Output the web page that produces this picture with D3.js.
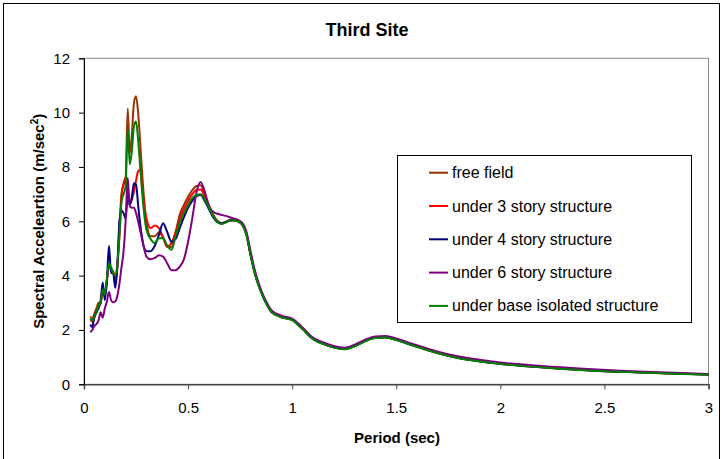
<!DOCTYPE html>
<html lang="en">
<head>
    <meta charset="UTF-8">
    <title>Third Site</title>
    <script src="https://d3js.org/d3.v7.min.js"></script>
    <style>
        body { margin: 0; background: #fff; }
        svg { display: block; font-family: "Liberation Sans", Arial, sans-serif; }
        .series { fill: none; stroke-width: 2; stroke-linejoin: round; }
        .tick-label { font-size: 15px; fill: #000; }
        .axis-title { font-size: 15px; font-weight: bold; fill: #000; }
        .legend-text { font-size: 16px; fill: #000; }
    </style>
</head>
<body>
    <div id="chart"></div>
    <script>
        const width = 725, height = 459;
        const margin = { top: 58.3, right: 16.5, bottom: 74.7, left: 84 };

        // data
        const periods = [
            0.03, 0.04, 0.05, 0.06, 0.07, 0.08, 0.09, 0.10, 0.11, 0.12,
            0.13, 0.14, 0.15, 0.16, 0.17, 0.18, 0.19, 0.20, 0.21, 0.22,
            0.23, 0.24, 0.25, 0.26, 0.27, 0.28, 0.29, 0.30,
            0.32, 0.34, 0.36, 0.38, 0.40, 0.42, 0.44, 0.46, 0.48, 0.50,
            0.52, 0.54, 0.56, 0.58, 0.60, 0.62, 0.64, 0.66, 0.68, 0.70,
            0.72, 0.74, 0.76, 0.78, 0.80, 0.82, 0.84, 0.86, 0.88, 0.90,
            0.95, 1.00, 1.05, 1.10, 1.15, 1.20, 1.25, 1.30, 1.35, 1.40,
            1.45, 1.50, 1.55, 1.60, 1.70, 1.80, 1.90, 2.00, 2.20, 2.40,
            2.60, 2.80, 3.00
        ];

        const freeField = [
            2.5, 2.4, 2.6, 2.8, 3.0, 2.95, 3.55, 3.3, 3.8, 4.45,
            4.2, 4.15, 3.9, 4.4, 5.7, 7.0, 7.35, 7.6, 10.15, 8.5,
            9.2, 10.35, 10.6, 10.0, 8.9, 7.7, 6.7, 6.0,
            5.45, 5.45, 5.6, 5.4, 5.05, 5.05, 5.6, 6.25, 6.6, 6.9,
            7.15, 7.3, 7.33, 7.0, 6.6, 6.25, 6.02, 5.93, 5.98, 6.04,
            6.05, 6.02, 5.9, 5.55, 4.8, 4.15, 3.65, 3.25, 2.93, 2.68,
            2.48, 2.38, 2.05, 1.68, 1.5, 1.37, 1.31, 1.42, 1.6, 1.72,
            1.74, 1.65, 1.52, 1.4, 1.16, 0.98, 0.86, 0.77, 0.64, 0.54,
            0.46, 0.41, 0.36
        ];
        const story3 = [
            2.4, 2.3, 2.45, 2.7, 2.85, 3.0, 3.5, 3.3, 3.85, 4.4,
            4.25, 4.15, 3.8, 4.3, 5.4, 6.9, 7.4, 7.6, 7.0, 6.65,
            6.8, 7.1, 7.5, 7.85, 7.9, 7.2, 6.5, 6.1,
            5.75, 5.85, 5.75, 5.4, 5.08, 5.2, 5.6, 6.1, 6.45, 6.75,
            7.0, 7.15, 7.17, 6.9, 6.55, 6.22, 6.0, 5.92, 5.97, 6.03,
            6.04, 6.0, 5.88, 5.52, 4.78, 4.12, 3.62, 3.23, 2.92, 2.67,
            2.47, 2.37, 2.04, 1.67, 1.49, 1.36, 1.3, 1.41, 1.59, 1.71,
            1.73, 1.64, 1.51, 1.39, 1.15, 0.97, 0.85, 0.76, 0.63, 0.53,
            0.46, 0.41, 0.36
        ];
        const story4 = [
            2.2, 2.1, 2.5, 2.65, 2.8, 3.1, 3.75, 3.1, 3.8, 5.1,
            4.1, 4.1, 3.55, 4.3, 6.0, 6.4, 6.3, 6.1, 6.9, 6.6,
            6.9, 7.4, 7.35, 6.6, 5.9, 5.35, 5.0, 4.9,
            4.9, 5.1, 5.5, 5.93, 5.6, 5.25, 5.35, 5.75, 6.15, 6.5,
            6.75, 6.93, 6.97, 6.75, 6.45, 6.15, 5.98, 5.92, 5.97, 6.03,
            6.04, 6.0, 5.88, 5.52, 4.78, 4.12, 3.62, 3.23, 2.92, 2.67,
            2.47, 2.37, 2.04, 1.67, 1.49, 1.36, 1.3, 1.41, 1.59, 1.71,
            1.73, 1.64, 1.51, 1.39, 1.15, 0.97, 0.85, 0.76, 0.63, 0.53,
            0.46, 0.41, 0.36
        ];
        const story6 = [
            1.92, 2.0, 2.15, 2.22, 2.35, 2.65, 2.45, 2.8, 3.05, 3.4,
            3.1, 3.02, 3.05, 3.25, 3.7, 4.3, 4.9, 6.0, 7.6, 6.55,
            6.5, 6.5, 6.3, 6.0, 5.65, 5.3, 4.95, 4.7,
            4.6, 4.65, 4.75, 4.7, 4.45, 4.2, 4.2, 4.33, 4.6, 5.25,
            6.1, 7.05, 7.45, 7.1, 6.55, 6.35, 6.28, 6.24, 6.2, 6.15,
            6.1, 6.05, 5.95, 5.62, 4.9, 4.22, 3.7, 3.3, 2.98, 2.73,
            2.52, 2.42, 2.09, 1.72, 1.54, 1.41, 1.35, 1.46, 1.64, 1.76,
            1.78, 1.69, 1.56, 1.44, 1.2, 1.02, 0.9, 0.8, 0.67, 0.57,
            0.49, 0.43, 0.38
        ];
        const baseIsolated = [
            2.4, 2.35, 2.5, 2.65, 2.9, 3.0, 3.5, 3.3, 3.9, 4.45,
            4.3, 4.1, 4.0, 4.4, 5.5, 6.7, 7.0, 7.3, 9.4, 8.1,
            8.6, 9.5, 9.67, 9.0, 8.0, 7.0, 6.2, 5.7,
            5.35, 5.2, 5.38, 5.38, 5.1, 4.95, 5.45, 5.95, 6.3, 6.6,
            6.85, 6.98, 7.0, 6.8, 6.5, 6.2, 5.98, 5.9, 5.95, 6.02,
            6.03, 6.0, 5.87, 5.5, 4.76, 4.1, 3.6, 3.22, 2.91, 2.66,
            2.46, 2.36, 2.03, 1.66, 1.48, 1.35, 1.29, 1.4, 1.58, 1.7,
            1.72, 1.63, 1.5, 1.38, 1.14, 0.96, 0.84, 0.75, 0.62, 0.52,
            0.45, 0.4, 0.35
        ];

        const seriesNames = ["free field", "under 3 story structure", "under 4 story structure",
                             "under 6 story structure", "under base isolated structure"];
        const seriesValues = [freeField, story3, story4, story6, baseIsolated];
        const seriesColors = ["#993300", "#ff0000", "#000080", "#800080", "#008000"];

        const xTicks = [0, 0.5, 1, 1.5, 2, 2.5, 3];
        const yTicks = [0, 2, 4, 6, 8, 10, 12];

        const svg = d3.select("#chart")
            .append("svg")
            .attr("width", width)
            .attr("height", height);

        // outer chart frame
        svg.append("rect")
            .attr("x", 3.5).attr("y", 3.5)
            .attr("width", 716).attr("height", 462)
            .attr("fill", "#fff")
            .attr("stroke", "#000");

        const xScale = d3.scaleLinear().domain([0, 3]).range([margin.left, width - margin.right]);
        const yScale = d3.scaleLinear().domain([0, 12]).range([height - margin.bottom, margin.top]);

        // plot area border (top / right are grey)
        svg.append("rect")
            .attr("x", xScale(0)).attr("y", yScale(12))
            .attr("width", xScale(3) - xScale(0))
            .attr("height", yScale(0) - yScale(12))
            .attr("fill", "none")
            .attr("stroke", "#888");

        // series
        const line = d3.line()
            .x(d => xScale(d[0]))
            .y(d => yScale(d[1]))
            .curve(d3.curveMonotoneX);

        seriesValues.forEach((vals, i) => {
            svg.append("path")
                .datum(periods.map((p, j) => [p, vals[j]]))
                .attr("class", "series")
                .attr("stroke", seriesColors[i])
                .attr("d", line);
        });

        // axes
        const xAxis = svg.append("g")
            .attr("transform", `translate(0,${yScale(0)})`)
            .call(d3.axisBottom(xScale).tickValues(xTicks).tickSize(5).tickPadding(13).tickFormat(d3.format("")));
        xAxis.select(".domain").attr("stroke", "#444").attr("stroke-width", 1.5);
        xAxis.selectAll(".tick line").attr("stroke", "#444");
        xAxis.selectAll("text").attr("class", "tick-label").attr("font-family", null).attr("font-size", null);

        const yAxis = svg.append("g")
            .attr("transform", `translate(${xScale(0)},0)`)
            .call(d3.axisLeft(yScale).tickValues(yTicks).tickSize(5).tickPadding(9));
        yAxis.select(".domain").attr("stroke", "#000");
        yAxis.selectAll("text").attr("class", "tick-label").attr("font-family", null).attr("font-size", null);

        // titles
        svg.append("text")
            .attr("x", 367).attr("y", 36)
            .attr("text-anchor", "middle")
            .style("font-size", "18px").style("font-weight", "bold")
            .text("Third Site");

        svg.append("text")
            .attr("class", "axis-title")
            .attr("x", 397).attr("y", 443)
            .attr("text-anchor", "middle")
            .text("Period (sec)");

        const yTitle = svg.append("text")
            .attr("class", "axis-title")
            .attr("transform", `translate(44,${(yScale(0) + yScale(12)) / 2}) rotate(-90)`)
            .attr("text-anchor", "middle");
        yTitle.append("tspan").text("Spectral Acceleartion (m/sec");
        yTitle.append("tspan").attr("dy", -6).style("font-size", "10px").text("2");
        yTitle.append("tspan").attr("dy", 6).text(")");

        // legend
        const legend = svg.append("g");
        legend.append("rect")
            .attr("x", 397.5).attr("y", 155.5)
            .attr("width", 294).attr("height", 167)
            .attr("fill", "#fff")
            .attr("stroke", "#000");

        seriesNames.forEach((name, i) => {
            const cy = 172.7 + i * 33.3;
            legend.append("line")
                .attr("x1", 429).attr("x2", 448)
                .attr("y1", cy).attr("y2", cy)
                .attr("stroke", seriesColors[i])
                .attr("stroke-width", 2);
            legend.append("text")
                .attr("class", "legend-text")
                .attr("x", 452).attr("y", cy + 5.5)
                .text(name);
        });
    </script>
</body>
</html>
